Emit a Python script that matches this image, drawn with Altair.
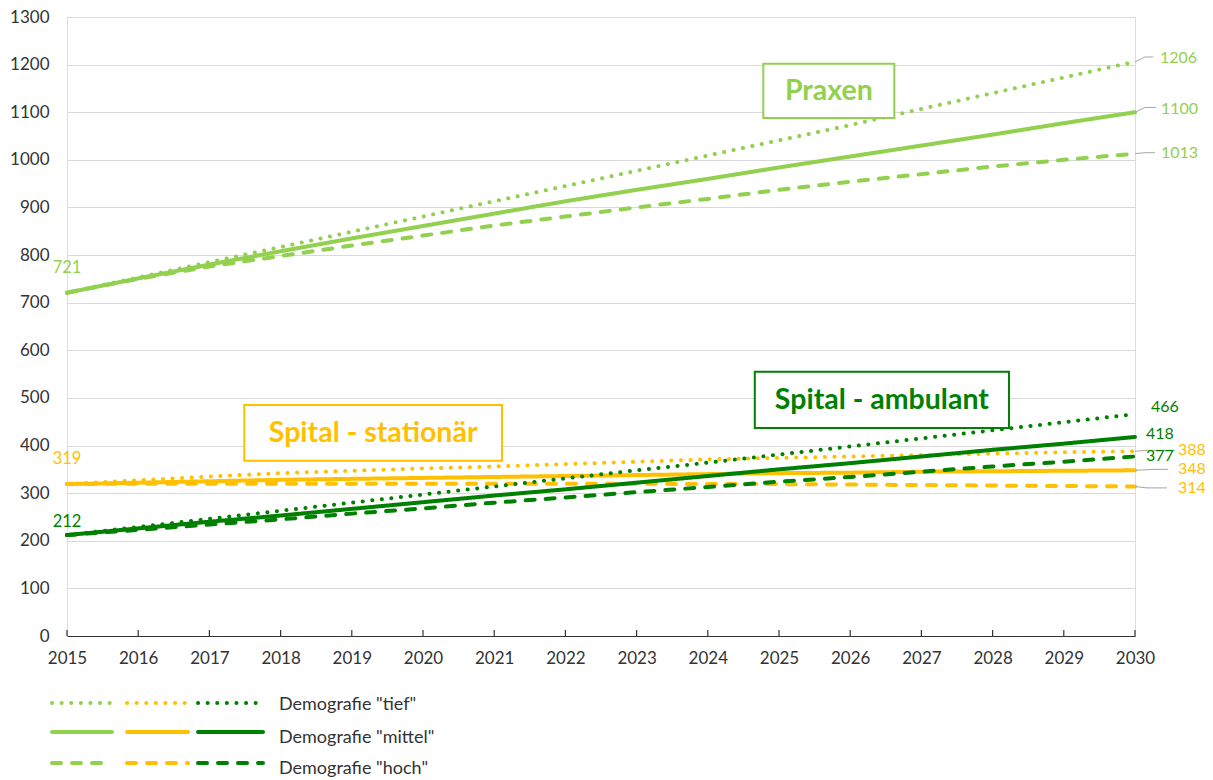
import altair as alt
import pandas as pd

# ---- data -------------------------------------------------------------
years = list(range(2015, 2031))

praxen_tief = [721, 753, 785, 817, 849, 881, 913, 945, 977, 1009, 1041, 1073, 1107, 1140, 1173, 1206]
praxen_mittel = [721, 751, 780, 808, 835, 861, 887, 913, 937, 960, 984, 1007, 1030, 1053, 1077, 1100]
praxen_hoch = [721, 750, 776, 798, 820, 841, 862, 881, 900, 918, 937, 954, 970, 986, 1000, 1013]

stationaer_tief = [319, 327, 335, 342, 347, 352, 356, 361, 366, 371, 374, 377, 380, 383, 386, 388]
stationaer_mittel = [319, 322, 325, 328, 330, 332, 334, 336, 338, 340, 342, 343, 345, 346, 347, 348]
stationaer_hoch = [319, 320, 320, 320, 320, 320, 320, 320, 320, 319, 319, 318, 317, 316, 315, 314]

ambulant_tief = [212, 229, 246, 263, 280, 297, 314, 331, 348, 364, 381, 398, 415, 432, 449, 466]
ambulant_mittel = [212, 226, 240, 253, 267, 281, 295, 308, 322, 336, 350, 363, 377, 391, 404, 418]
ambulant_hoch = [212, 223, 234, 245, 257, 268, 280, 291, 302, 313, 324, 334, 345, 356, 366, 377]

groups = ["Praxen", "Spital - stationär", "Spital - ambulant"]
scenarios = ["tief", "mittel", "hoch"]
group_colors = ["#92D050", "#FFC000", "#008000"]
dash_patterns = [[0.1, 9.5], [1, 0], [9, 11]]

series = {
    ("Praxen", "tief"): praxen_tief,
    ("Praxen", "mittel"): praxen_mittel,
    ("Praxen", "hoch"): praxen_hoch,
    ("Spital - stationär", "tief"): stationaer_tief,
    ("Spital - stationär", "mittel"): stationaer_mittel,
    ("Spital - stationär", "hoch"): stationaer_hoch,
    ("Spital - ambulant", "tief"): ambulant_tief,
    ("Spital - ambulant", "mittel"): ambulant_mittel,
    ("Spital - ambulant", "hoch"): ambulant_hoch,
}

rows = []
for (g, s), vals in series.items():
    for yr, v in zip(years, vals):
        rows.append({"year": yr, "value": v, "group": g, "scenario": s, "key": f"{g}|{s}"})
df = pd.DataFrame(rows)

# ---- layout -----------------------------------------------------------
W, H = 1068, 619
PX_PER_YEAR = W / 15.0
FONT = "Lato"
DARK = "#333333"
LEADER = "#A6A6A6"

color_scale = alt.Scale(domain=groups, range=group_colors)
dash_scale = alt.Scale(domain=scenarios, range=dash_patterns)

x_scale = alt.Scale(domain=[2015, 2030], nice=False, zero=False)
y_scale = alt.Scale(domain=[0, 1300], nice=False)

x_enc = alt.X(
    "year:Q", scale=x_scale,
    axis=alt.Axis(values=years, format="d", title=None, grid=False, ticks=False,
                  domainColor=DARK, domainWidth=1.2, labelFont=FONT, labelFontSize=17,
                  labelColor=DARK, labelPadding=14, labelFlush=False),
)
y_enc = alt.Y(
    "value:Q", scale=y_scale,
    axis=alt.Axis(values=list(range(0, 1301, 100)), format="d", title=None, domain=False,
                  ticks=False, gridColor="#D9D9D9", gridWidth=1, labelFont=FONT,
                  labelFontSize=17, labelColor=DARK, labelPadding=18),
)

lines = alt.Chart(df).mark_line(strokeWidth=4, strokeCap="round").encode(
    x=x_enc,
    y=y_enc,
    color=alt.Color("group:N", scale=color_scale, legend=None),
    strokeDash=alt.StrokeDash("scenario:N", scale=dash_scale, legend=None),
    detail="key:N",
)

# small upward tick marks on the year axis
ticks = alt.Chart(pd.DataFrame({"year": years})).mark_rule(color=DARK, strokeWidth=1.2).encode(
    x=alt.X("year:Q", scale=x_scale),
    y=alt.value(H),
    y2=alt.value(H - 6),
)

# ---- value labels at the line ends ------------------------------------
end_values = [1206, 1100, 1013, 466, 418, 377, 388, 348, 314]
end_groups = ["Praxen"] * 3 + ["Spital - ambulant"] * 3 + ["Spital - stationär"] * 3
end_label_y = [1213, 1107, 1015, 481, 424, 378, 390, 350, 311]
end_label_px = [25, 26, 26, 16, 11, 11, 43, 43, 43]
has_leader = [True, True, True, False, False, False, True, True, True]
leader_kink_px = [10, 10, 10, 0, 0, 0, 12, 20, 12]
leader_end_px = [18, 21, 20, 0, 0, 0, 40, 33, 32]

end_df = pd.DataFrame({
    "value": end_values,
    "group": end_groups,
    "label_y": end_label_y,
    "label_x": [2030 + p / PX_PER_YEAR for p in end_label_px],
    "text": [str(v) for v in end_values],
})

leader_rows = []
for i, v in enumerate(end_values):
    if not has_leader[i]:
        continue
    ly = end_label_y[i] + (3 if i < 2 else 0)
    leader_rows += [
        {"id": i, "o": 0, "x": 2030, "y": v},
        {"id": i, "o": 1, "x": 2030 + leader_kink_px[i] / PX_PER_YEAR, "y": ly},
        {"id": i, "o": 2, "x": 2030 + leader_end_px[i] / PX_PER_YEAR, "y": ly},
    ]
leaders = alt.Chart(pd.DataFrame(leader_rows)).mark_line(color=LEADER, strokeWidth=1).encode(
    x=alt.X("x:Q", scale=x_scale), y=alt.Y("y:Q", scale=y_scale),
    detail="id:N", order="o:Q",
)

end_labels = alt.Chart(end_df).mark_text(align="left", baseline="middle", font=FONT, fontSize=16).encode(
    x=alt.X("label_x:Q", scale=x_scale),
    y=alt.Y("label_y:Q", scale=y_scale),
    text="text:N",
    color=alt.Color("group:N", scale=color_scale, legend=None),
)

# start values
start_values = [721, 319, 212]
start_label_y = [773, 371, 240]
start_df = pd.DataFrame({"year": [2015] * 3, "label_y": start_label_y,
                         "group": groups, "text": [str(v) for v in start_values]})
start_labels = alt.Chart(start_df).mark_text(align="center", baseline="middle", font=FONT, fontSize=16.5).encode(
    x=alt.X("year:Q", scale=x_scale),
    y=alt.Y("label_y:Q", scale=y_scale),
    text="text:N",
    color=alt.Color("group:N", scale=color_scale, legend=None),
)

# ---- framed group titles ----------------------------------------------
box_df = pd.DataFrame({
    "group": groups,
    "x0": [2024.78, 2017.49, 2024.66],
    "x1": [2026.62, 2021.11, 2028.23],
    "y0": [1088, 368, 437],
    "y1": [1202, 485, 555],
})
box_df["xc"] = (box_df["x0"] + box_df["x1"]) / 2
box_df["yc"] = (box_df["y0"] + box_df["y1"]) / 2

boxes = alt.Chart(box_df).mark_rect(fill="white", strokeWidth=2).encode(
    x=alt.X("x0:Q", scale=x_scale), x2="x1:Q",
    y=alt.Y("y0:Q", scale=y_scale), y2="y1:Q",
    stroke=alt.Stroke("group:N", scale=color_scale, legend=None),
)
box_text = alt.Chart(box_df).mark_text(font=FONT, fontSize=28.5, fontWeight="bold",
                                       align="center", baseline="middle").encode(
    x=alt.X("xc:Q", scale=x_scale),
    y=alt.Y("yc:Q", scale=y_scale),
    text="group:N",
    color=alt.Color("group:N", scale=color_scale, legend=None),
)

# ---- legend below the chart ------------------------------------------
one = pd.DataFrame({"k": [0]})
legend_layers = []
legend_x = [(52, 112), (127, 188), (198, 263)]
legend_line_y = [703, 732, 763]
legend_text_y = [705, 738, 769]
legend_text = ['Demografie "tief"', 'Demografie "mittel"', 'Demografie "hoch"']
for r, s in enumerate(scenarios):
    for c, col in enumerate(group_colors):
        x0, x1 = legend_x[c]
        legend_layers.append(
            alt.Chart(one).mark_rule(color=col, strokeWidth=4, strokeCap="round",
                                     strokeDash=dash_patterns[r]).encode(
                x=alt.value(x0 - 67), x2=alt.value(x1 - 67), y=alt.value(legend_line_y[r] - 17)
            )
        )
    legend_layers.append(
        alt.Chart(one).mark_text(text=legend_text[r], align="left", baseline="middle",
                                 font=FONT, fontSize=18, color=DARK).encode(
            x=alt.value(279 - 67), y=alt.value(legend_text_y[r] - 17)
        )
    )

chart = alt.layer(
    lines, ticks, leaders, boxes, box_text, end_labels, start_labels, *legend_layers
).properties(
    width=W, height=H,
    autosize=alt.AutoSizeParams(type="none"),
    padding={"left": 67, "top": 17, "right": 78, "bottom": 144},
).configure_view(stroke=None).configure(background="white")

chart.save("out.html", embed_options={"renderer": "svg", "actions": False})
